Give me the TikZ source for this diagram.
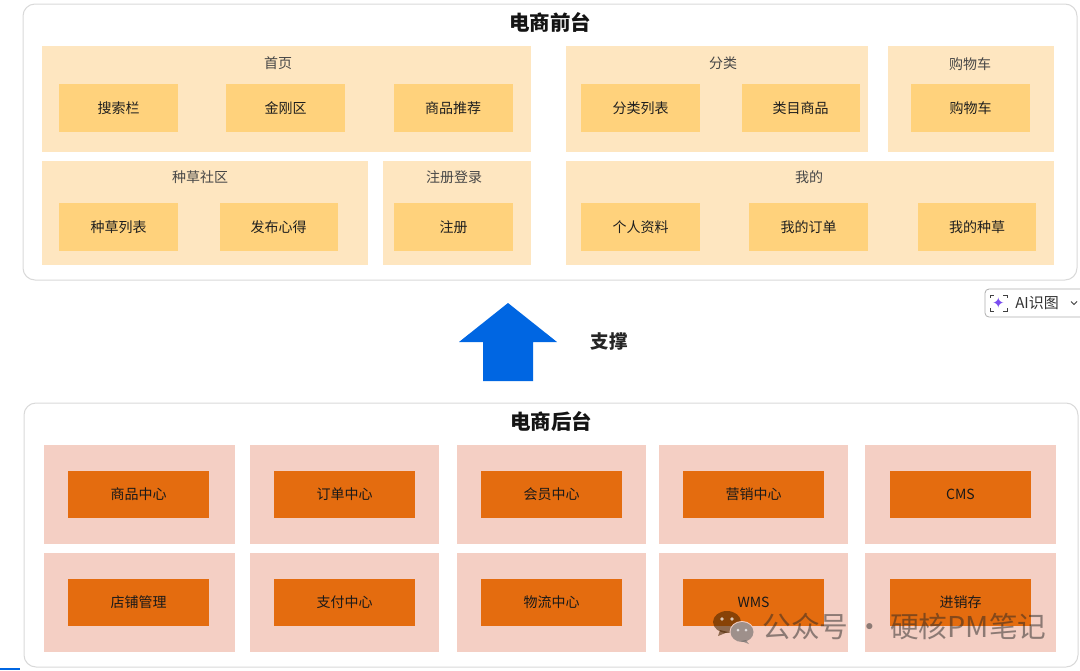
\documentclass[tikz,border=0pt]{standalone}
\usepackage{fontspec}
\setmainfont{Noto Sans CJK SC}
\newfontfamily\symfont{DejaVu Sans}
\usetikzlibrary{arrows.meta,positioning,calc}

\definecolor{panelline}{HTML}{D9D9D9}
\definecolor{groupfill}{HTML}{FEE6C0}
\definecolor{leaffill}{HTML}{FFD27C}
\definecolor{cellfill}{HTML}{F4CFC4}
\definecolor{corefill}{HTML}{E46C0F}
\definecolor{arrowfill}{HTML}{0066E2}
\definecolor{btnviolet}{HTML}{7A4DF0}

\begin{document}
\begin{tikzpicture}[x=1pt, y=-1pt, every node/.style={align=center, inner sep=0pt, outer sep=0pt},
  panel/.style={rectangle, draw=panelline, fill=white, line width=1pt, rounded corners=12pt},
  title/.style={font=\bfseries\fontsize{20.5}{24}\selectfont, text=black!92},
  group/.style={rectangle, fill=groupfill},
  grouplabel/.style={font=\fontsize{14}{16}\selectfont, text=black!72},
  leaf/.style={rectangle, fill=leaffill, minimum width=119pt, minimum height=48pt, text height=11pt, text depth=0pt, font=\fontsize{14}{16}\selectfont, text=black!88},
  cell/.style={rectangle, fill=cellfill, minimum height=99pt},
  core/.style={rectangle, fill=corefill, minimum width=141pt, minimum height=47pt, text height=11pt, text depth=0pt, font=\fontsize{14}{16}\selectfont, text=black!90}]
  \useasboundingbox (0,0) rectangle (1080,670);

  % front end
  \node (front) [panel, minimum width=1054pt, minimum height=276pt] at (550,142) {};
  \node (fronttitle) [title] at (550,22) {电商前台};

  \node (home) [group, minimum width=489pt, minimum height=106pt] at (286.5,99) {};
  \node (homelabel) [grouplabel] at (278,63) {首页};
  \node (search) [leaf] at (118.5,107.5) {搜索栏};
  \node (kingkong) [leaf] at (285.5,107.5) {金刚区};
  \node (recommend) [leaf] at (453,107.5) {商品推荐};

  \node (category) [group, minimum width=302pt, minimum height=106pt] at (717,99) {};
  \node (categorylabel) [grouplabel] at (723,63) {分类};
  \node (catlist) [leaf] at (640.5,107.5) {分类列表};
  \node (catgoods) [leaf, minimum width=118pt] at (800.5,107.5) {类目商品};

  \node (cart) [group, minimum width=166pt, minimum height=106pt] at (971,99) {};
  \node (cartlabel) [grouplabel] at (970,64) {购物车};
  \node (cartleaf) [leaf] at (970.5,107.5) {购物车};

  \node (grass) [group, minimum width=326pt, minimum height=104pt] at (205,213) {};
  \node (grasslabel) [grouplabel] at (200,177) {种草社区};
  \node (grasslist) [leaf] at (118.5,226.5) {种草列表};
  \node (grasspost) [leaf, minimum width=118pt] at (278.5,226.5) {发布心得};

  \node (login) [group, minimum width=148pt, minimum height=104pt] at (457,213) {};
  \node (loginlabel) [grouplabel] at (454,177) {注册登录};
  \node (register) [leaf] at (453.5,227) {注册};

  \node (mine) [group, minimum width=488pt, minimum height=104pt] at (810,213) {};
  \node (minelabel) [grouplabel] at (809,177) {我的};
  \node (profile) [leaf] at (640.5,226.5) {个人资料};
  \node (myorder) [leaf] at (808.5,226.5) {我的订单};
  \node (mygrass) [leaf, minimum width=118pt] at (977,227) {我的种草};

  % support arrow
  \fill[arrowfill] (508,303) -- (557,342) -- (533,342) -- (533,381) -- (483,381) -- (483,342) -- (459,342) -- cycle;
  \node (support) [font=\bfseries\fontsize{18.5}{20}\selectfont, text=black!85] at (609,342) {支撑};

  % back end
  \node (back) [panel, minimum width=1054pt, minimum height=264pt] at (551,535) {};
  \node (backtitle) [title] at (551,421) {电商后台};

  \foreach \name/\cx/\cw/\corex/\rowa/\rowb in {a/139.5/191/138.5/商品中心/店铺管理, b/344.5/189/344.5/订单中心/支付中心, c/551.5/189/551.5/会员中心/物流中心, d/753.5/189/753.5/营销中心/WMS, e/960.5/191/960.5/CMS/进销存} {
    \node (cell\name1) [cell, minimum width=\cw pt] at (\cx,494.5) {};
    \node (cell\name2) [cell, minimum width=\cw pt] at (\cx,602) {};
    \node (core\name1) [core] at (\corex,494) {\rowa};
    \node (core\name2) [core] at (\corex,602) {\rowb};
  }

  % page leftovers
  \fill[white, draw=panelline!80!black, line width=.8pt, rounded corners=4pt] (1081,289) -- (985,289) -- (985,317) -- (1081,317);
  \node (aistar) [font=\symfont\fontsize{15}{15}\selectfont, text=btnviolet] at (998.5,303) {✦};
  \draw[black!75, line width=1pt] (990,298) -- (990,295) -- (994,295) (1003,295) -- (1007,295) -- (1007,298) (1007,308) -- (1007,311) -- (1003,311) (994,311) -- (990,311) -- (990,308);
  \node (aitext) [font=\fontsize{15}{17}\selectfont, text=black!80] at (1037,303) {AI识图};
  \draw[black!75, line width=1pt] (1071,301.5) -- (1074,304.5) -- (1077,301.5);
  \fill[arrowfill] (0,668) rectangle (20,670);

  % watermark
  \fill[black!70!orange, opacity=.6] (727,622) ellipse (14pt and 11pt);
  \fill[black!70!orange, opacity=.6] (720,630) -- (718,636) -- (728,632) -- cycle;
  \fill[cellfill] (742,632) ellipse (12.5pt and 11pt);
  \fill[black!60, opacity=.6] (742,632) ellipse (11.5pt and 10pt);
  \fill[black!60, opacity=.6] (746,640) -- (749,644) -- (741,641) -- cycle;
  \fill[white, opacity=.7] (722,619) circle (1.8pt) (732,619) circle (1.8pt) (738,630) circle (1.5pt) (746,630) circle (1.5pt);
  \node (watermark) [font=\fontsize{28.7}{30}\selectfont, text=black!85, opacity=.5] at (904.5,627) {公众号 · 硬核PM笔记};
\end{tikzpicture}
\end{document}
